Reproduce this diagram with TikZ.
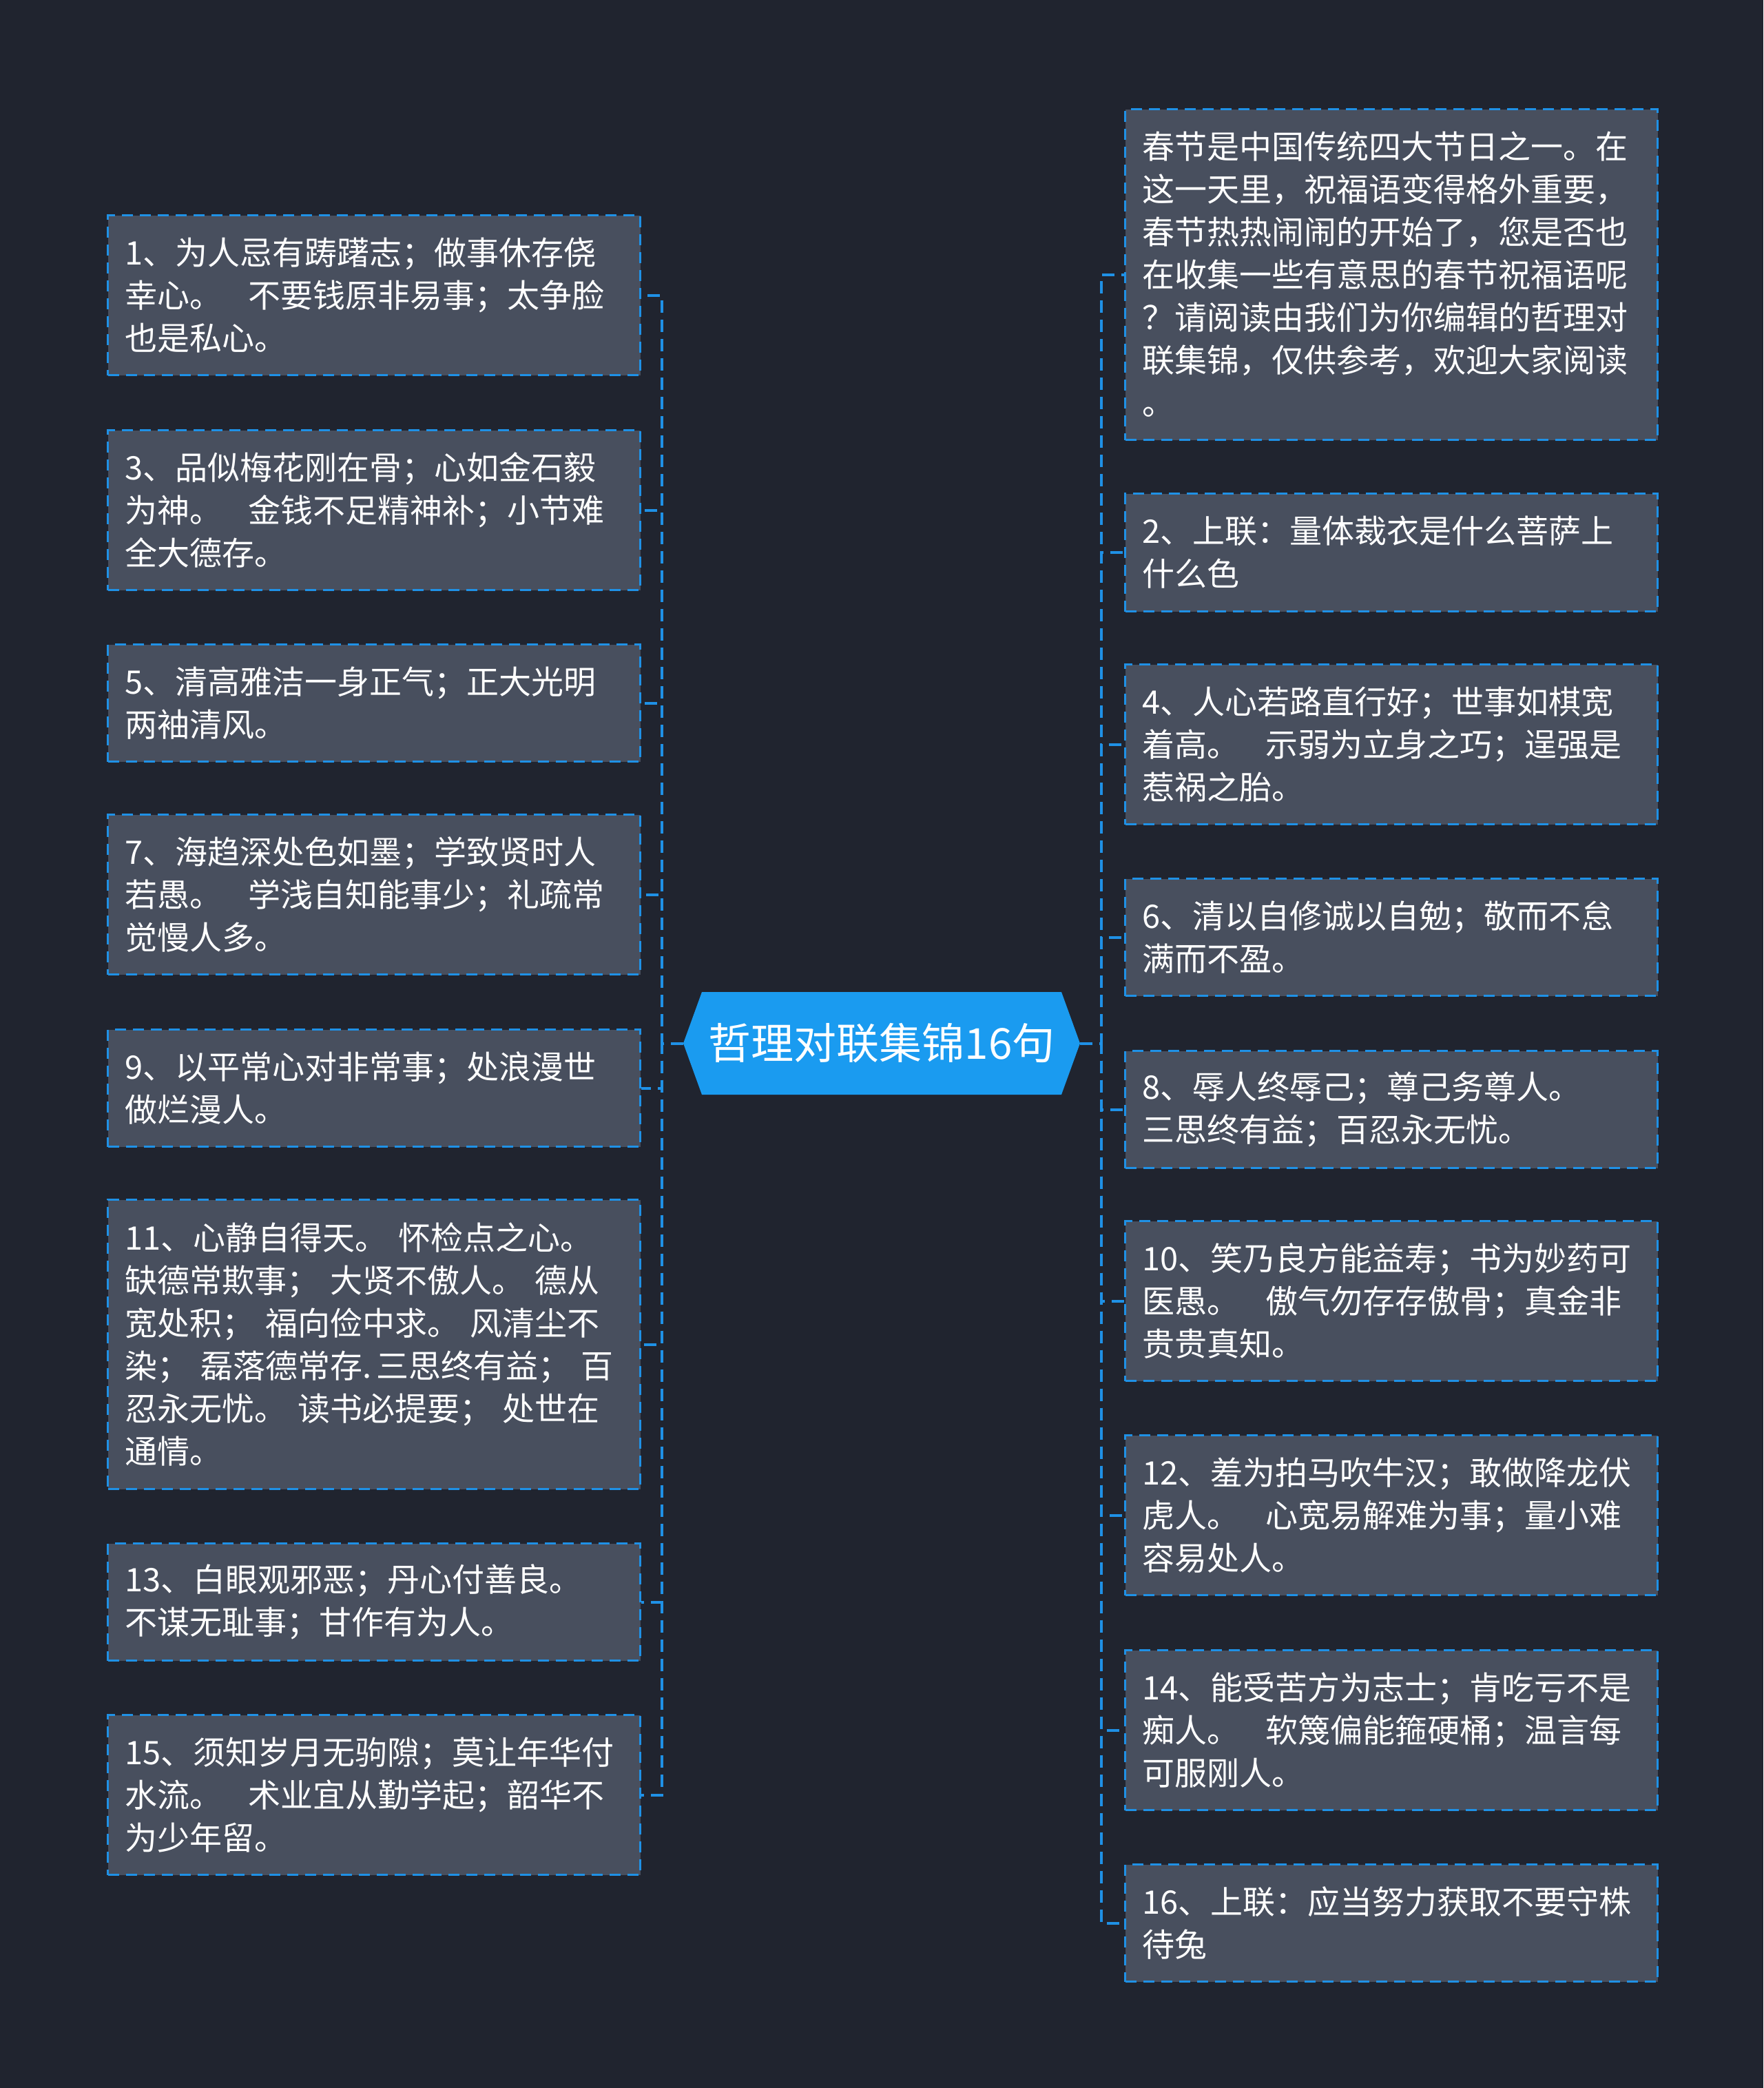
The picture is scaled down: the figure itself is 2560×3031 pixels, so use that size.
\documentclass[tikz,border=0pt]{standalone}
\usepackage{fontspec}
\newfontfamily\cjk{Noto Sans CJK SC}
\definecolor{bgc}{RGB}{32,36,47}
\definecolor{boxfill}{RGB}{72,79,94}
\definecolor{edgeblue}{RGB}{31,145,230}
\definecolor{hubfill}{RGB}{26,155,240}
\tikzset{
  topic/.style={rectangle, fill=boxfill, draw=edgeblue, line width=3pt,
    dash pattern=on 16pt off 10pt, text=white, align=left, anchor=north west,
    inner xsep=25pt, inner ysep=0pt, text width=723pt,
    font=\cjk\fontsize{47}{62}\selectfont},
  link/.style={draw=edgeblue, line width=4pt, dash pattern=on 18pt off 10pt},
  hub/.style={rectangle, draw=none, text=white, inner sep=0pt,
    minimum width=522pt, minimum height=149pt, font=\cjk\fontsize{62}{72}\selectfont}
}
\newcommand{\gp}{\hspace*{0.8em}}
\begin{document}
\begin{tikzpicture}[x=1pt,y=-1pt]
\path[fill=bgc] (0,0) rectangle (2560,3031);
\useasboundingbox (0,0) rectangle (2560,3031);

% central topic
\coordinate (cl) at (992,1514.5);
\coordinate (cr) at (1568,1514.5);
\fill[hubfill] (cl) -- (1019,1440) -- (1541,1440) -- (cr) -- (1541,1589) -- (1019,1589) -- cycle;
\node[hub] (c) at (1280,1514.5) {哲理对联集锦16句};

% left column
\node[topic, minimum height=232pt] (l1) at (155,311) {1、为人忌有踌躇志；做事休存侥\\幸心。\gp 不要钱原非易事；太争脸\\也是私心。};
\node[topic, minimum height=232pt] (l3) at (155,623) {3、品似梅花刚在骨；心如金石毅\\为神。\gp 金钱不足精神补；小节难\\全大德存。};
\node[topic, minimum height=170pt] (l5) at (155,934) {5、清高雅洁一身正气；正大光明\\两袖清风。};
\node[topic, minimum height=232pt] (l7) at (155,1181) {7、海趋深处色如墨；学致贤时人\\若愚。\gp 学浅自知能事少；礼疏常\\觉慢人多。};
\node[topic, minimum height=170pt] (l9) at (155,1493) {9、以平常心对非常事；处浪漫世\\做烂漫人。};
\node[topic, minimum height=420pt] (l11) at (155,1740) {\mbox{11、心静自得天。 怀检点之心。}\\\mbox{缺德常欺事； 大贤不傲人。 德从}\\\mbox{宽处积； 福向俭中求。 风清尘不}\\\mbox{染； 磊落德常存.\hspace{0.15em}三思终有益； 百}\\\mbox{忍永无忧。 读书必提要； 处世在}\\通情。};
\node[topic, minimum height=170pt] (l13) at (155,2239) {13、白眼观邪恶；丹心付善良。\\不谋无耻事；甘作有为人。};
\node[topic, minimum height=232pt] (l15) at (155,2488) {15、须知岁月无驹隙；莫让年华付\\水流。\gp 术业宜从勤学起；韶华不\\为少年留。};

% right column
\node[topic, minimum height=480pt] (r0) at (1632,157) {春节是中国传统四大节日之一。在\\这一天里，祝福语变得格外重要，\\春节热热闹闹的开始了，您是否也\\在收集一些有意思的春节祝福语呢\\？请阅读由我们为你编辑的哲理对\\联集锦，仅供参考，欢迎大家阅读\\。};
\node[topic, minimum height=171pt] (r2) at (1632,715) {2、上联：量体裁衣是什么菩萨上\\什么色};
\node[topic, minimum height=232pt] (r4) at (1632,963) {4、人心若路直行好；世事如棋宽\\着高。\gp 示弱为立身之巧；逞强是\\惹祸之胎。};
\node[topic, minimum height=170pt] (r6) at (1632,1274) {6、清以自修诚以自勉；敬而不怠\\满而不盈。};
\node[topic, minimum height=170pt] (r8) at (1632,1524) {8、辱人终辱己；尊己务尊人。\\三思终有益；百忍永无忧。};
\node[topic, minimum height=232pt] (r10) at (1632,1771) {10、笑乃良方能益寿；书为妙药可\\医愚。\gp 傲气勿存存傲骨；真金非\\贵贵真知。};
\node[topic, minimum height=232pt] (r12) at (1632,2082) {12、羞为拍马吹牛汉；敢做降龙伏\\虎人。\gp 心宽易解难为事；量小难\\容易处人。};
\node[topic, minimum height=232pt] (r14) at (1632,2394) {14、能受苦方为志士；肯吃亏不是\\痴人。\gp 软篾偏能箍硬桶；温言每\\可服刚人。};
\node[topic, minimum height=170pt] (r16) at (1632,2705) {16、上联：应当努力获取不要守株\\待兔};

% connectors
\foreach \n in {l1,l3,l5,l7,l9,l11,l13,l15}
  \draw[link] (cl) -- ++(-31,0) |- (\n.east);
\foreach \n in {r0,r2,r4,r6,r8,r10,r12,r14,r16}
  \draw[link] (cr) -- ++(31,0) |- (\n.west);
\end{tikzpicture}
\end{document}
